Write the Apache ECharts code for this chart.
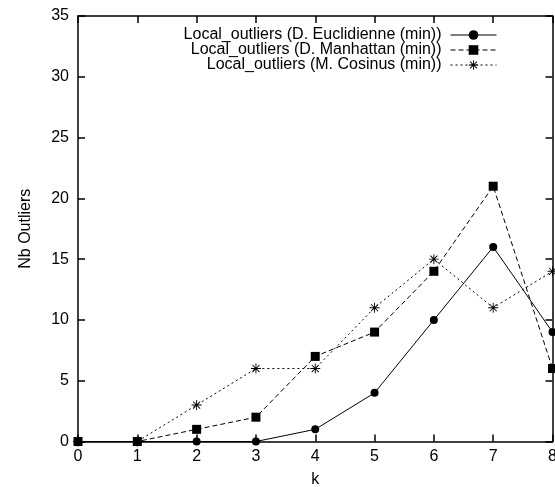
<!DOCTYPE html>
<html><head><meta charset="utf-8">
<script src="https://cdn.jsdelivr.net/npm/echarts@6/dist/echarts.min.js"></script>
<style>html,body{margin:0;padding:0;background:#fff}#c{width:555px;height:487px}</style>
</head><body><div id="c"></div>
<script>
var kValues = [0, 1, 2, 3, 4, 5, 6, 7, 8];
var euclidienne = [0, 0, 0, 0, 1, 4, 10, 16, 9];
var manhattan = [0, 0, 1, 2, 7, 9, 14, 21, 6];
var cosinus = [0, 0, 3, 6, 6, 11, 15, 11, 14];
var seriesNames = [
  'Local_outliers (D. Euclidienne (min))',
  'Local_outliers (D. Manhattan (min))',
  'Local_outliers (M. Cosinus (min))'
];
var xTitle = 'k';
var yTitle = 'Nb Outliers';

function pairs(vals) { return kValues.map(function (k, i) { return [k, vals[i]]; }); }

var star = 'path://M-0.45,-5L0.45,-5L0.45,5L-0.45,5Z M-5,-0.45L5,-0.45L5,0.45L-5,0.45Z M-3.85,-3.2L-3.2,-3.85L3.85,3.2L3.2,3.85Z M3.2,-3.85L3.85,-3.2L-3.2,3.85L-3.85,3.2Z';

var font = 'Liberation Sans, Arial, sans-serif';
var fs = 16;
var axisLine = { show: true, onZero: false, lineStyle: { color: '#000', width: 1.5 } };
var tick = { show: true, inside: true, length: 7, lineStyle: { color: '#000', width: 1.5 } };
var lab = { color: '#000', fontSize: fs, fontFamily: font };

var chart = echarts.init(document.getElementById('c'), null, { renderer: 'canvas' });
function legendFor(i, top) {
  return {
    data: [seriesNames[i]], right: 58, top: top, orient: 'vertical', align: 'right',
    itemWidth: 46, itemHeight: 12, itemGap: 0, padding: 0,
    lineStyle: { width: 1 },
    textStyle: { color: '#000', fontSize: fs, fontFamily: font, padding: [0, 4, 0, 0] },
    selectedMode: false
  };
}
chart.setOption({
  animation: false,
  backgroundColor: '#fff',
  grid: { left: 78, right: 2.5, top: 16, bottom: 45.5, containLabel: false, outerBoundsMode: 'none' },
  legend: [legendFor(0, 27), legendFor(1, 42), legendFor(2, 57)],
  xAxis: [
    { type: 'value', min: 0, max: 8, interval: 1, position: 'bottom',
      name: xTitle, nameLocation: 'middle', nameGap: 30,
      nameTextStyle: { color: '#000', fontSize: fs, fontFamily: font },
      axisLine: axisLine, axisTick: tick, axisLabel: Object.assign({ margin: 7 }, lab), splitLine: { show: false } },
    { type: 'value', min: 0, max: 8, interval: 1, position: 'top',
      axisLine: axisLine, axisTick: tick, axisLabel: { show: false }, splitLine: { show: false } }
  ],
  yAxis: [
    { type: 'value', min: 0, max: 35, interval: 5, position: 'left',
      name: yTitle, nameLocation: 'middle', nameGap: 44,
      nameTextStyle: { color: '#000', fontSize: fs, fontFamily: font },
      axisLine: axisLine, axisTick: tick, axisLabel: Object.assign({ margin: 9 }, lab), splitLine: { show: false } },
    { type: 'value', min: 0, max: 35, interval: 5, position: 'right',
      axisLine: axisLine, axisTick: tick, axisLabel: { show: false }, splitLine: { show: false } }
  ],
  series: [
    { name: seriesNames[0], type: 'line', data: pairs(euclidienne), symbol: 'circle', symbolSize: 8,
      itemStyle: { color: '#000' }, lineStyle: { color: '#000', width: 1, type: 'solid' }, clip: false },
    { name: seriesNames[1], type: 'line', data: pairs(manhattan), symbol: 'rect', symbolSize: 9,
      itemStyle: { color: '#000' }, lineStyle: { color: '#000', width: 1, type: [5, 3] }, clip: false },
    { name: seriesNames[2], type: 'line', data: pairs(cosinus), symbol: star, symbolSize: 10,
      itemStyle: { color: '#000' }, lineStyle: { color: '#000', width: 1, type: [2, 3] }, clip: false },
    { type: 'line', xAxisIndex: 1, yAxisIndex: 1, data: [], silent: true }
  ]
});
</script></body></html>
